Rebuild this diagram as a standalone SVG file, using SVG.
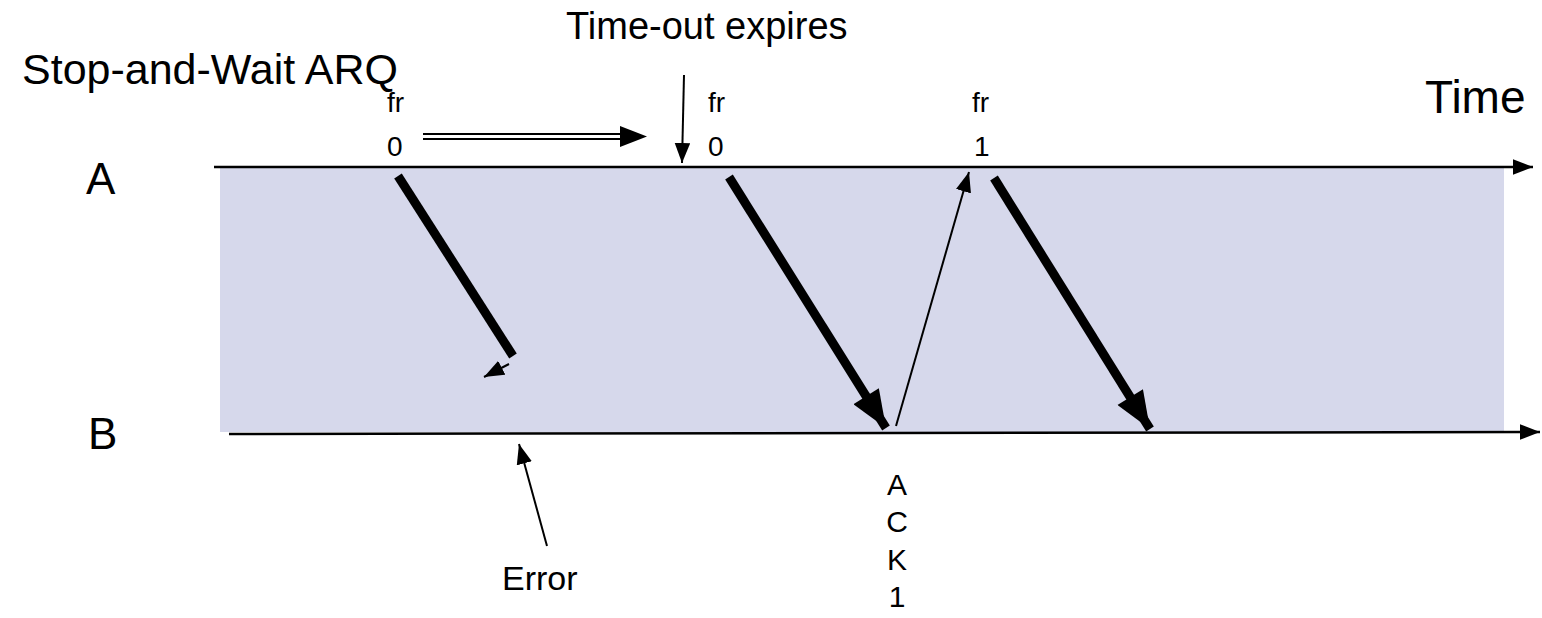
<svg xmlns="http://www.w3.org/2000/svg" width="1542" height="618" viewBox="0 0 1542 618">
<defs>
<style>
text{font-family:"Liberation Sans",Arial,sans-serif;fill:#000}
.thick{stroke:#000;stroke-width:9;fill:none}
.thin{stroke:#000;stroke-width:2;fill:none}
.axis{stroke:#000;stroke-width:2.5;fill:none}
</style>
<marker id="big" markerUnits="userSpaceOnUse" markerWidth="40" markerHeight="30" refX="30" refY="12" orient="auto" viewBox="0 0 30 24"><path d="M0,0 L30,12 L0,24 z" fill="#000"/></marker>
<marker id="sm" markerUnits="userSpaceOnUse" markerWidth="20" markerHeight="16" refX="18" refY="7" orient="auto" viewBox="0 0 18 14"><path d="M0,0 L18,7 L0,14 z" fill="#000"/></marker>
</defs>
<rect x="220" y="168" width="1284" height="264" fill="#D6D8EB"/>
<text x="22" y="84" font-size="43">Stop-and-Wait ARQ</text>
<text x="566" y="39" font-size="38">Time-out expires</text>
<text x="1425" y="113" font-size="46">Time</text>
<g id="nodeA"><text x="86" y="194" font-size="44">A</text></g>
<g id="nodeB"><text x="88" y="449" font-size="44">B</text></g>
<g id="labels" font-size="28">
<text x="387" y="112">fr</text><text x="387" y="156">0</text>
<text x="708" y="112">fr</text><text x="708" y="156">0</text>
<text x="972" y="112">fr</text><text x="974" y="156">1</text>
<text x="502" y="590" font-size="34">Error</text>
<g text-anchor="middle" font-size="30"><text x="897" y="495">A</text><text x="897" y="532">C</text><text x="897" y="570">K</text><text x="897" y="607">1</text></g>
</g>
<g id="connectors">
<line class="axis" x1="214" y1="167" x2="1533" y2="167" marker-end="url(#sm)"/>
<line class="axis" x1="229" y1="434" x2="1540" y2="432" marker-end="url(#sm)"/>
<line class="thick" x1="398" y1="176" x2="513" y2="356"/>
<line class="thin" x1="509" y1="364" x2="484" y2="377" marker-end="url(#sm)"/>
<line x1="423" y1="134" x2="625" y2="134" stroke="#000" stroke-width="2"/>
<line x1="423" y1="139" x2="625" y2="139" stroke="#000" stroke-width="2"/>
<path d="M620,126 L647,136.5 L620,147 z" fill="#000"/>
<line class="thin" x1="684" y1="75" x2="682" y2="163" marker-end="url(#sm)"/>
<line class="thick" x1="729" y1="177" x2="886" y2="428" marker-end="url(#big)"/>
<line class="thin" x1="896" y1="426" x2="969" y2="172" marker-end="url(#sm)"/>
<line class="thick" x1="994" y1="178" x2="1150" y2="429" marker-end="url(#big)"/>
<line class="thin" x1="547" y1="546" x2="519" y2="444" marker-end="url(#sm)"/>
</g>
</svg>
